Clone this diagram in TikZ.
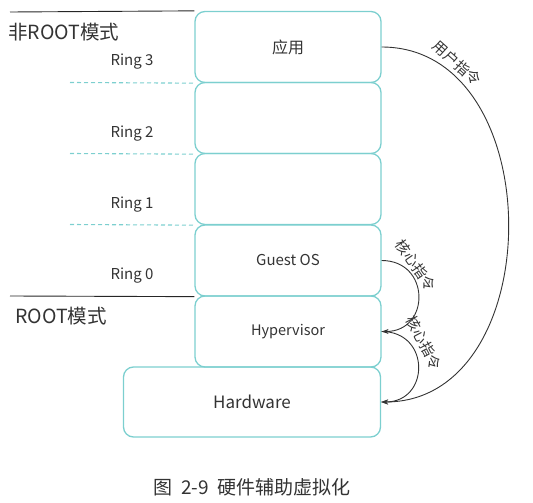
\documentclass[tikz,border=0pt]{standalone}
\usepackage{fontspec}
\setmainfont{Noto Sans CJK SC}
\usetikzlibrary{arrows.meta}
\definecolor{tealb}{HTML}{7CCFCF}
\definecolor{txt}{HTML}{333333}
\tikzset{
  x=1pt, y=-1pt,
  layer/.style={draw=tealb, line width=1.3pt, rounded corners=10pt, minimum width=186pt, minimum height=71pt, inner sep=0pt, text=txt, font=\fontsize{14.5}{16}\selectfont},
  ringlbl/.style={text=txt, font=\fontsize{15}{17}\selectfont},
  modelbl/.style={text=txt, font=\fontsize{19.5}{22}\selectfont, inner sep=0pt},
  sepline/.style={draw=black!85, line width=0.9pt},
  ringline/.style={draw=tealb, line width=1.1pt, dash pattern=on 4pt off 3pt},
  instr/.style={draw=black!80, line width=0.9pt, -{Stealth[length=7pt,width=5pt]}},
  instrlbl/.style={text=txt, font=\fontsize{14.5}{16}\selectfont, inner sep=1pt}
}
\begin{document}
\begin{tikzpicture}
\useasboundingbox (0,0) rectangle (533,503);
% layers
\node[layer, font=\fontsize{16}{18}\selectfont] (app) at (288,47) {应用};
\node[layer] (r2) at (288,118) {};
\node[layer] (r1) at (288,189) {};
\node[layer, font=\fontsize{15}{17}\selectfont] (guest) at (288,260.5) {Guest OS};
\node[layer] (hyp) at (288,331.5) {Hypervisor};
\node[layer, minimum width=257pt, minimum height=70pt, font=\fontsize{17}{19}\selectfont] (hw) at (252,402) {Hardware};
% separator lines
\coordinate (topL) at (10,12);
\coordinate (rootL) at (10,296);
\coordinate (d3) at (70,82.5);
\coordinate (d2) at (70,153.5);
\coordinate (d1) at (70,224.5);
\draw[sepline] (topL) -- (app.north west);
\draw[sepline] (rootL) -- (guest.south west);
\draw[ringline] (d3) -- (app.south west);
\draw[ringline] (d2) -- (r2.south west);
\draw[ringline] (d1) -- (r1.south west);
% labels
\node[modelbl, anchor=west] (nonroot) at (8,32) {非ROOT模式};
\node[modelbl, anchor=west] (root) at (15,316) {ROOT模式};
\node[ringlbl] (l3) at (132,62) {Ring 3};
\node[ringlbl] (l2) at (132,134) {Ring 2};
\node[ringlbl] (l1) at (132,205) {Ring 1};
\node[ringlbl] (l0) at (132,276) {Ring 0};
% instructions
\draw[instr] (app.east) .. controls +(169,0) and +(169,0) .. (hw.east);
\draw[instr] (guest.east) .. controls +(49,0) and +(49,0) .. (hyp.east);
\draw[instr] (hyp.east) .. controls +(49,0) and +(49,0) .. (hw.east);
\node[instrlbl, rotate=-42] (u) at (457,63) {用户指令};
\node[instrlbl, rotate=-55] (k1) at (416,265) {核心指令};
\node[instrlbl, rotate=-62] (k2) at (424,343) {核心指令};
% caption
\node[text=txt, font=\fontsize{19}{21}\selectfont] (cap) at (252,487) {图\ \ 2-9\ \ 硬件辅助虚拟化};
\end{tikzpicture}
\end{document}
